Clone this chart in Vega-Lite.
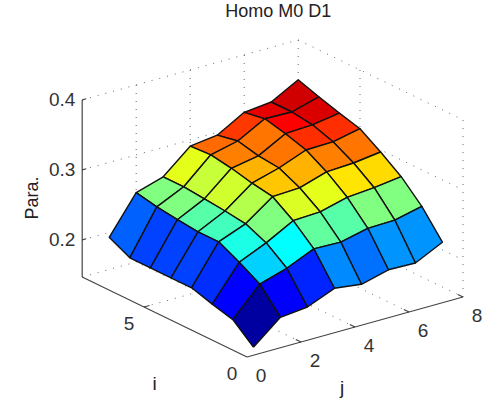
{
"$schema":"https://vega.github.io/schema/vega-lite/v6.json",
"width":491,"height":402,"padding":0,
"autosize":{"type":"fit","contains":"padding"},
"background":"white",
"config":{"view":{"stroke":null}},
"datasets":{
"cells":[
{"i":7,"j":7,"v":0.92,"a":0.322,"b":0.322,"c":0.343,"d":0.333},
{"i":7,"j":6,"v":0.9,"a":0.323,"b":0.318,"c":0.322,"d":0.322},
{"i":7,"j":5,"v":0.82,"a":0.302,"b":0.296,"c":0.318,"d":0.323},
{"i":7,"j":4,"v":0.77,"a":0.293,"b":0.291,"c":0.296,"d":0.302},
{"i":7,"j":3,"v":0.6,"a":0.258,"b":0.258,"c":0.291,"d":0.293},
{"i":7,"j":2,"v":0.5,"a":0.24,"b":0.246,"c":0.258,"d":0.258},
{"i":7,"j":1,"v":0.22,"a":0.178,"b":0.193,"c":0.246,"d":0.24},
{"i":6,"j":7,"v":0.91,"a":0.318,"b":0.322,"c":0.333,"d":0.324},
{"i":6,"j":6,"v":0.875,"a":0.316,"b":0.323,"c":0.322,"d":0.318},
{"i":6,"j":5,"v":0.76,"a":0.295,"b":0.302,"c":0.323,"d":0.316},
{"i":6,"j":4,"v":0.75,"a":0.288,"b":0.293,"c":0.302,"d":0.295},
{"i":6,"j":3,"v":0.57,"a":0.255,"b":0.258,"c":0.293,"d":0.288},
{"i":6,"j":2,"v":0.5,"a":0.236,"b":0.24,"c":0.258,"d":0.255},
{"i":6,"j":1,"v":0.19,"a":0.178,"b":0.178,"c":0.24,"d":0.236},
{"i":5,"j":7,"v":0.83,"a":0.308,"b":0.318,"c":0.324,"d":0.316},
{"i":5,"j":6,"v":0.83,"a":0.307,"b":0.316,"c":0.318,"d":0.308},
{"i":5,"j":5,"v":0.76,"a":0.292,"b":0.295,"c":0.316,"d":0.307},
{"i":5,"j":4,"v":0.7,"a":0.281,"b":0.288,"c":0.295,"d":0.292},
{"i":5,"j":3,"v":0.58,"a":0.252,"b":0.255,"c":0.288,"d":0.281},
{"i":5,"j":2,"v":0.46,"a":0.233,"b":0.236,"c":0.255,"d":0.252},
{"i":5,"j":1,"v":0.19,"a":0.178,"b":0.178,"c":0.236,"d":0.233},
{"i":4,"j":7,"v":0.76,"a":0.292,"b":0.308,"c":0.316,"d":0.297},
{"i":4,"j":6,"v":0.75,"a":0.29,"b":0.307,"c":0.308,"d":0.292},
{"i":4,"j":5,"v":0.7,"a":0.278,"b":0.292,"c":0.307,"d":0.29},
{"i":4,"j":4,"v":0.68,"a":0.276,"b":0.281,"c":0.292,"d":0.278},
{"i":4,"j":3,"v":0.55,"a":0.248,"b":0.252,"c":0.281,"d":0.276},
{"i":4,"j":2,"v":0.44,"a":0.233,"b":0.233,"c":0.252,"d":0.248},
{"i":4,"j":1,"v":0.19,"a":0.178,"b":0.178,"c":0.233,"d":0.233},
{"i":3,"j":7,"v":0.66,"a":0.271,"b":0.292,"c":0.297,"d":0.276},
{"i":3,"j":6,"v":0.65,"a":0.268,"b":0.29,"c":0.292,"d":0.271},
{"i":3,"j":5,"v":0.6,"a":0.258,"b":0.278,"c":0.29,"d":0.268},
{"i":3,"j":4,"v":0.59,"a":0.256,"b":0.276,"c":0.278,"d":0.258},
{"i":3,"j":3,"v":0.5,"a":0.235,"b":0.248,"c":0.276,"d":0.256},
{"i":3,"j":2,"v":0.4,"a":0.218,"b":0.233,"c":0.248,"d":0.235},
{"i":3,"j":1,"v":0.17,"a":0.169,"b":0.178,"c":0.233,"d":0.218},
{"i":2,"j":7,"v":0.5,"a":0.239,"b":0.271,"c":0.276,"d":0.248},
{"i":2,"j":6,"v":0.5,"a":0.238,"b":0.268,"c":0.271,"d":0.239},
{"i":2,"j":5,"v":0.46,"a":0.229,"b":0.258,"c":0.268,"d":0.238},
{"i":2,"j":4,"v":0.47,"a":0.23,"b":0.256,"c":0.258,"d":0.229},
{"i":2,"j":3,"v":0.375,"a":0.213,"b":0.235,"c":0.256,"d":0.23},
{"i":2,"j":2,"v":0.33,"a":0.201,"b":0.218,"c":0.235,"d":0.213},
{"i":2,"j":1,"v":0.125,"a":0.161,"b":0.169,"c":0.218,"d":0.201},
{"i":1,"j":7,"v":0.27,"a":0.192,"b":0.239,"c":0.248,"d":0.211},
{"i":1,"j":6,"v":0.27,"a":0.193,"b":0.238,"c":0.239,"d":0.192},
{"i":1,"j":5,"v":0.235,"a":0.183,"b":0.229,"c":0.238,"d":0.193},
{"i":1,"j":4,"v":0.26,"a":0.188,"b":0.23,"c":0.229,"d":0.183},
{"i":1,"j":3,"v":0.16,"a":0.172,"b":0.213,"c":0.23,"d":0.188},
{"i":1,"j":2,"v":0.12,"a":0.168,"b":0.201,"c":0.213,"d":0.172},
{"i":1,"j":1,"v":0.02,"a":0.136,"b":0.161,"c":0.201,"d":0.168}
],
"grid":[
{"i":8,"j":0,"z":0.2,"i2":8,"j2":8,"z2":0.2},
{"i":8,"j":0,"z":0.3,"i2":8,"j2":8,"z2":0.3},
{"i":8,"j":0,"z":0.4,"i2":8,"j2":8,"z2":0.4},
{"i":8,"j":8,"z":0.2,"i2":0,"j2":8,"z2":0.2},
{"i":8,"j":8,"z":0.3,"i2":0,"j2":8,"z2":0.3},
{"i":8,"j":8,"z":0.4,"i2":0,"j2":8,"z2":0.4},
{"i":8,"j":0,"z":0.147,"i2":8,"j2":8,"z2":0.147},
{"i":8,"j":8,"z":0.147,"i2":0,"j2":8,"z2":0.147},
{"i":8,"j":2,"z":0.147,"i2":8,"j2":2,"z2":0.4},
{"i":8,"j":4,"z":0.147,"i2":8,"j2":4,"z2":0.4},
{"i":8,"j":6,"z":0.147,"i2":8,"j2":6,"z2":0.4},
{"i":8,"j":8,"z":0.147,"i2":8,"j2":8,"z2":0.4},
{"i":5,"j":8,"z":0.147,"i2":5,"j2":8,"z2":0.4},
{"i":0,"j":8,"z":0.147,"i2":0,"j2":8,"z2":0.4},
{"i":5,"j":0,"z":0.147,"i2":5,"j2":8,"z2":0.147},
{"i":0,"j":2,"z":0.147,"i2":8,"j2":2,"z2":0.147},
{"i":0,"j":4,"z":0.147,"i2":8,"j2":4,"z2":0.147},
{"i":0,"j":6,"z":0.147,"i2":8,"j2":6,"z2":0.147}
],
"axes":[
{"i":8,"j":0,"z":0.147,"i2":8,"j2":0,"z2":0.4},
{"i":0,"j":0,"z":0.147,"i2":8,"j2":0,"z2":0.147},
{"i":0,"j":0,"z":0.147,"i2":0,"j2":8,"z2":0.147},
{"i":8,"j":0,"z":0.2,"i2":8,"j2":0.15,"z2":0.2},
{"i":8,"j":0,"z":0.3,"i2":8,"j2":0.15,"z2":0.3},
{"i":8,"j":0,"z":0.4,"i2":8,"j2":0.15,"z2":0.4},
{"i":5,"j":0,"z":0.147,"i2":5,"j2":0.2,"z2":0.147},
{"i":0,"j":2,"z":0.147,"i2":0.25,"j2":2,"z2":0.147},
{"i":0,"j":4,"z":0.147,"i2":0.25,"j2":4,"z2":0.147},
{"i":0,"j":6,"z":0.147,"i2":0.25,"j2":6,"z2":0.147},
{"i":0,"j":8,"z":0.147,"i2":0.25,"j2":8,"z2":0.147}
],
"labels":[
{"t":"0.2","i":8,"j":0,"z":0.2,"g":"z"},
{"t":"0.3","i":8,"j":0,"z":0.3,"g":"z"},
{"t":"0.4","i":8,"j":0,"z":0.4,"g":"z"},
{"t":"0","i":0,"j":0,"z":0.147,"g":"i"},
{"t":"5","i":5,"j":0,"z":0.147,"g":"i"},
{"t":"0","i":0,"j":0,"z":0.147,"g":"j"},
{"t":"2","i":0,"j":2,"z":0.147,"g":"j"},
{"t":"4","i":0,"j":4,"z":0.147,"g":"j"},
{"t":"6","i":0,"j":6,"z":0.147,"g":"j"},
{"t":"8","i":0,"j":8,"z":0.147,"g":"j"}
]
},
"encoding":{
"x":{"field":"sx","type":"quantitative","scale":{"domain":[0,491],"range":[0,491]},"axis":null},
"y":{"field":"sy","type":"quantitative","scale":{"domain":[0,402],"range":[0,402]},"axis":null}
},
"layer":[
{"data":{"name":"grid"},
"transform":[
{"calculate":"247-20.6*datum.i+27*datum.j","as":"sx"},
{"calculate":"357-10*datum.i-7.5*datum.j-700*(datum.z-0.147)","as":"sy"},
{"calculate":"247-20.6*datum.i2+27*datum.j2","as":"sx2"},
{"calculate":"357-10*datum.i2-7.5*datum.j2-700*(datum.z2-0.147)","as":"sy2"}],
"mark":{"type":"rule","stroke":"#666666","strokeWidth":1,"strokeDash":[1,7]},
"encoding":{"x2":{"field":"sx2"},"y2":{"field":"sy2"}}},
{"data":{"name":"axes"},
"transform":[
{"calculate":"247-20.6*datum.i+27*datum.j","as":"sx"},
{"calculate":"357-10*datum.i-7.5*datum.j-700*(datum.z-0.147)","as":"sy"},
{"calculate":"247-20.6*datum.i2+27*datum.j2","as":"sx2"},
{"calculate":"357-10*datum.i2-7.5*datum.j2-700*(datum.z2-0.147)","as":"sy2"}],
"mark":{"type":"rule","stroke":"#444444","strokeWidth":1.2},
"encoding":{"x2":{"field":"sx2"},"y2":{"field":"sy2"}}},
{"data":{"name":"cells"},
"transform":[
{"calculate":"datum.a","as":"e"},
{"calculate":"datum.i*10+datum.j","as":"cell"},
{"fold":["a","b","c","d","e"],"as":["corner","z"]},
{"calculate":"datum.i+((datum.corner==='b'||datum.corner==='c')?1:0)","as":"pi"},
{"calculate":"datum.j+((datum.corner==='c'||datum.corner==='d')?1:0)","as":"pj"},
{"calculate":"247-20.6*datum.pi+27*datum.pj","as":"sx"},
{"calculate":"357-10*datum.pi-7.5*datum.pj-700*(datum.z-0.147)","as":"sy"}],
"mark":{"type":"line","stroke":"#111111","strokeWidth":1.4,"strokeJoin":"round","interpolate":"linear"},
"encoding":{
"detail":{"field":"cell","type":"nominal"},
"order":{"field":"corner","type":"ordinal"},
"fill":{"field":"v","type":"quantitative","legend":null,
"scale":{"interpolate":"rgb","domain":[0,0.125,0.375,0.625,0.875,1],"range":["#00008f","#0000ff","#00ffff","#ffff00","#ff0000","#800000"]}}}},
{"data":{"name":"labels"},
"transform":[{"filter":"datum.g==='z'"},
{"calculate":"247-20.6*datum.i+27*datum.j","as":"sx"},
{"calculate":"357-10*datum.i-7.5*datum.j-700*(datum.z-0.147)","as":"sy"}],
"mark":{"type":"text","font":"Liberation Sans","fontSize":19,"fill":"#333333","dx":-20,"align":"center","baseline":"middle"},
"encoding":{"text":{"field":"t"}}},
{"data":{"name":"labels"},
"transform":[{"filter":"datum.g==='i'"},
{"calculate":"247-20.6*datum.i+27*datum.j","as":"sx"},
{"calculate":"357-10*datum.i-7.5*datum.j-700*(datum.z-0.147)","as":"sy"}],
"mark":{"type":"text","font":"Liberation Sans","fontSize":19,"fill":"#333333","dx":-15,"dy":17,"align":"center","baseline":"middle"},
"encoding":{"text":{"field":"t"}}},
{"data":{"name":"labels"},
"transform":[{"filter":"datum.g==='j'"},
{"calculate":"247-20.6*datum.i+27*datum.j","as":"sx"},
{"calculate":"357-10*datum.i-7.5*datum.j-700*(datum.z-0.147)","as":"sy"}],
"mark":{"type":"text","font":"Liberation Sans","fontSize":19,"fill":"#333333","dx":14,"dy":19,"align":"center","baseline":"middle"},
"encoding":{"text":{"field":"t"}}},
{"data":{"values":[{"t":"i","i":4,"j":0,"z":0.147}]},
"transform":[
{"calculate":"247-20.6*datum.i+27*datum.j","as":"sx"},
{"calculate":"357-10*datum.i-7.5*datum.j-700*(datum.z-0.147)","as":"sy"}],
"mark":{"type":"text","font":"Liberation Sans","fontSize":19,"fill":"#222222","dx":-10,"dy":67,"align":"center","baseline":"middle"},
"encoding":{"text":{"field":"t"}}},
{"data":{"values":[{"t":"j","i":0,"j":4,"z":0.147}]},
"transform":[
{"calculate":"247-20.6*datum.i+27*datum.j","as":"sx"},
{"calculate":"357-10*datum.i-7.5*datum.j-700*(datum.z-0.147)","as":"sy"}],
"mark":{"type":"text","font":"Liberation Sans","fontSize":19,"fill":"#222222","dx":-13,"dy":61,"align":"center","baseline":"middle"},
"encoding":{"text":{"field":"t"}}},
{"data":{"values":[{"t":"Para.","i":8,"j":0,"z":0.3}]},
"transform":[
{"calculate":"247-20.6*datum.i+27*datum.j","as":"sx"},
{"calculate":"357-10*datum.i-7.5*datum.j-700*(datum.z-0.147)","as":"sy"}],
"mark":{"type":"text","font":"Liberation Sans","fontSize":18,"fill":"#222222","angle":270,"dx":-28,"dy":-49,"align":"center","baseline":"middle"},
"encoding":{"text":{"field":"t"}}},
{"data":{"values":[{"t":"Homo M0 D1","i":8,"j":8,"z":0.4}]},
"transform":[
{"calculate":"247-20.6*datum.i+27*datum.j","as":"sx"},
{"calculate":"357-10*datum.i-7.5*datum.j-700*(datum.z-0.147)","as":"sy"}],
"mark":{"type":"text","font":"Liberation Sans","fontSize":18,"fill":"#222222","dx":-20,"dy":-28,"align":"center","baseline":"middle"},
"encoding":{"text":{"field":"t"}}}
]
}
